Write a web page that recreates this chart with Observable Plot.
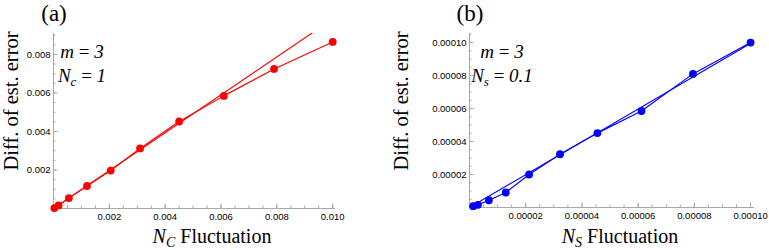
<!DOCTYPE html>
<html><head><meta charset="utf-8">
<script src="https://cdn.jsdelivr.net/npm/d3@7"></script>
<script src="https://cdn.jsdelivr.net/npm/@observablehq/plot@0.6"></script>
<style>
body{margin:0;background:#fff}
#wrap{display:flex;width:769px;height:250px;overflow:hidden}
svg{overflow:visible}
</style>
</head><body><div id="wrap"></div>
<script>
// Panel (a): N_C fluctuation
const xA = [0.00003, 0.00018, 0.00055, 0.0012, 0.00205, 0.0031, 0.0045, 0.0061, 0.0079, 0.0100];
const yA = [0.00002, 0.00016, 0.00054, 0.00117, 0.00197, 0.00312, 0.00452, 0.00585, 0.00725, 0.00865];
const fitXA = [0, 0.0095];
const fitYA = [0, 0.00935];
const ticksA = [0.002, 0.004, 0.006, 0.008, 0.010];
const yTicksA = [0.002, 0.004, 0.006, 0.008];

// Panel (b): N_S fluctuation
const xB = [0.0000013, 0.000003, 0.0000069, 0.0000129, 0.0000212, 0.0000322, 0.0000455, 0.0000612, 0.0000795, 0.0001];
const yB = [0.0000008, 0.0000016, 0.0000044, 0.0000091, 0.00002, 0.0000323, 0.0000451, 0.0000585, 0.000081, 0.0001];
const fitXB = [0, 0.000101];
const fitYB = [0, 0.0001005];
const ticksB = [0.00002, 0.00004, 0.00006, 0.00008, 0.00010];
const yTicksB = [0.00002, 0.00004, 0.00006, 0.00008, 0.00010];

const AX = "#a8a8a8";
const SERIF = "'Liberation Serif', 'Times New Roman', serif";

function panel(o) {
  const H = 250;
  const plotW = o.w - o.ml - o.mr, plotH = H - o.mt - o.mb;
  const pts = o.xs.map((x, i) => ({x, y: o.ys[i]}));
  const fit = o.fx.map((x, i) => ({x, y: o.fy[i]}));
  const xMinor = d3.range(o.minX, o.xDomain[1] * 1.0001, o.minX);
  const yMinor = d3.range(o.minY, o.yDomain[1] * 1.0001, o.minY);
  const svg = Plot.plot({
    width: o.w, height: H,
    marginLeft: o.ml, marginRight: o.mr, marginTop: o.mt, marginBottom: o.mb,
    style: {fontFamily: "'Liberation Sans', Arial, sans-serif", fontSize: "9.5px", background: "white", color: "black", overflow: "visible"},
    x: {domain: o.xDomain},
    y: {domain: o.yDomain},
    marks: [
      Plot.ruleX([0], {stroke: AX, strokeWidth: 1}),
      Plot.ruleY([0], {stroke: AX, strokeWidth: 1}),
      Plot.tickX(xMinor, {x: d => d, insetTop: plotH - 2.5, stroke: AX}),
      Plot.tickX(o.xt, {x: d => d, insetTop: plotH - 4.5, stroke: AX}),
      Plot.tickY(yMinor, {y: d => d, insetRight: plotW - 2.5, stroke: AX}),
      Plot.tickY(o.yt, {y: d => d, insetRight: plotW - 4.5, stroke: AX}),
      Plot.axisX({ticks: o.xt, tickSize: 0, tickPadding: 5, tickFormat: o.fmt, label: null}),
      Plot.axisY({ticks: o.yt, tickSize: 0, tickPadding: 3, tickFormat: o.fmt, label: null}),
      Plot.line(fit, {x: "x", y: "y", stroke: o.color, strokeWidth: 1.15, clip: true}),
      Plot.line(pts, {x: "x", y: "y", stroke: o.color, strokeWidth: 1.15}),
      Plot.dot(pts, {x: "x", y: "y", r: 3.9, fill: o.color, stroke: "none"})
    ]
  });
  const s = d3.select(svg);
  // panel title
  s.append("text").attr("x", o.titleX).attr("y", 21).attr("text-anchor", "middle")
    .style("font-family", SERIF).style("font-size", "23px").text(o.title);
  // y label
  s.append("text").attr("transform", `translate(${o.ylx},101) rotate(-90)`).attr("text-anchor", "middle")
    .style("font-family", SERIF).style("font-size", "20.5px").text("Diff. of est. error");
  // x label
  const xl = s.append("text").attr("x", o.xlx).attr("y", 243).attr("text-anchor", "middle")
    .style("font-family", SERIF).style("font-size", "20px");
  xl.append("tspan").style("font-style", "italic").text("N");
  xl.append("tspan").attr("dy", 4).style("font-size", "14px").style("font-style", "italic").text(o.sub);
  xl.append("tspan").attr("dy", -4).text(" Fluctuation");
  // annotations
  const a1 = s.append("text").attr("x", o.annX).attr("y", 58)
    .style("font-family", SERIF).style("font-size", "19px").style("font-style", "italic");
  a1.append("tspan").text("m");
  a1.append("tspan").style("font-style", "normal").text(" = ");
  a1.append("tspan").text("3");
  const a2 = s.append("text").attr("x", o.annX).attr("y", 82)
    .style("font-family", SERIF).style("font-size", "19px").style("font-style", "italic");
  a2.append("tspan").text("N");
  a2.append("tspan").attr("dy", 4).style("font-size", "13px").text(o.annSub);
  a2.append("tspan").attr("dy", -4).style("font-style", "normal").text(" = ");
  a2.append("tspan").text(o.annVal);
  return svg;
}

const wrap = document.getElementById("wrap");
wrap.append(panel({
  w: 385, ml: 53, mr: 50, mt: 33, mb: 42,
  xDomain: [0, 0.0101], yDomain: [0, 0.00909],
  xs: xA, ys: yA, fx: fitXA, fy: fitYA, color: "#ff0000",
  xt: ticksA, yt: yTicksA, minX: 0.0005, minY: 0.0005, fmt: d3.format(".3f"),
  title: "(a)", titleX: 54, ylx: 18, xlx: 212, sub: "C",
  annX: 82, annSub: "c", annVal: "1"
}));
wrap.append(panel({
  w: 384, ml: 84, mr: 15, mt: 33, mb: 43,
  xDomain: [0, 0.0001014], yDomain: [0, 0.0001055],
  xs: xB, ys: yB, fx: fitXB, fy: fitYB, color: "#0000ff",
  xt: ticksB, yt: yTicksB, minX: 0.000005, minY: 0.000005, fmt: d3.format(".5f"),
  title: "(b)", titleX: 85, ylx: 23, xlx: 235, sub: "S",
  annX: 117, annSub: "s", annVal: "0.1"
}));
</script>
</body></html>
